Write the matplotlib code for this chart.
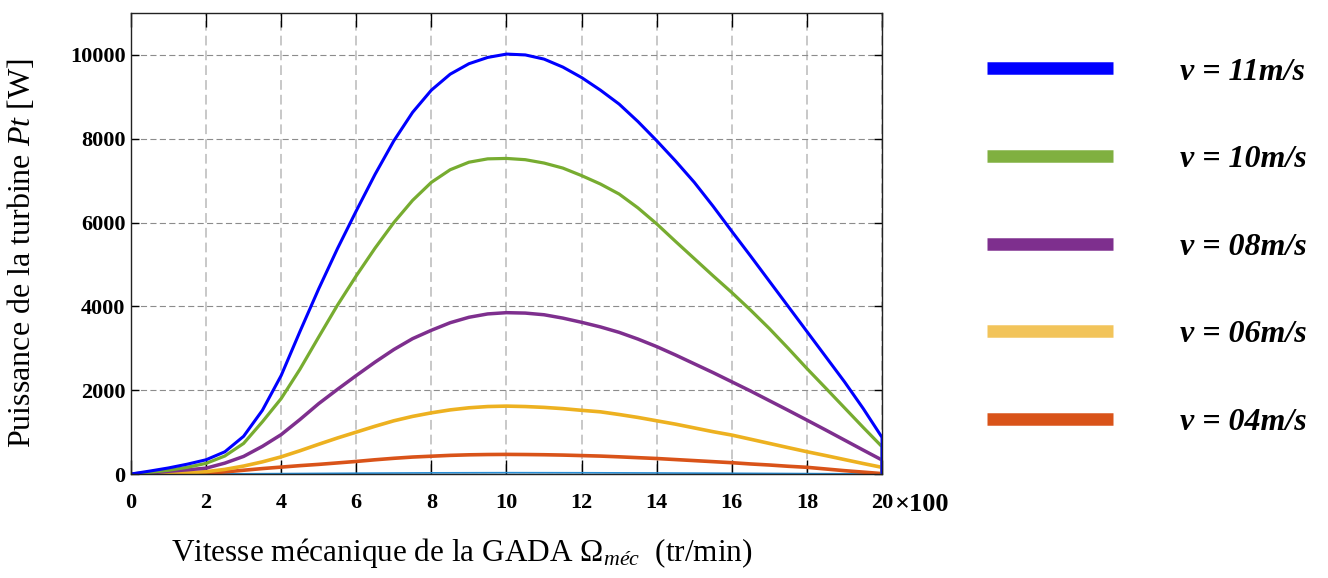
import matplotlib
matplotlib.use("Agg")
import matplotlib.pyplot as plt
import numpy as np
from matplotlib.lines import Line2D

plt.rcParams['font.family'] = ['Liberation Serif', 'DejaVu Serif']
plt.rcParams['mathtext.fontset'] = 'custom'
plt.rcParams['mathtext.rm'] = 'Liberation Serif'
plt.rcParams['mathtext.it'] = 'Liberation Serif:italic'
plt.rcParams['mathtext.bf'] = 'Liberation Serif:bold'

# speed axis (x100 tr/min), last point repeats 20 for the drop to 0
omega = list(np.arange(0, 20.5, 0.5)) + [20]

p_v11 = [0, 70, 145, 235, 340, 530, 900, 1520, 2350, 3400, 4420, 5380, 6280, 7150,
         7950, 8630, 9160, 9540, 9790, 9940, 10020, 10000, 9900, 9710, 9460, 9160,
         8826, 8410, 7952, 7470, 6960, 6390, 5790, 5200, 4600, 4000, 3400, 2800,
         2200, 1560, 873, 0]
p_v10 = [0, 40, 90, 160, 254, 430, 730, 1246, 1800, 2500, 3270, 4030, 4730, 5390,
         6000, 6530, 6960, 7260, 7440, 7520, 7530, 7500, 7420, 7300, 7120, 6920,
         6680, 6350, 5968, 5550, 5140, 4730, 4330, 3910, 3470, 3000, 2516, 2050,
         1580, 1110, 651, 0]
p_v08 = [0, 25, 65, 100, 140, 260, 420, 660, 940, 1300, 1680, 2020, 2350, 2670,
         2970, 3230, 3430, 3610, 3740, 3820, 3850, 3840, 3800, 3720, 3620, 3510,
         3380, 3220, 3040, 2840, 2630, 2420, 2200, 1980, 1750, 1520, 1286, 1050,
         810, 570, 333, 0]
p_v06 = [0, 5, 15, 30, 56, 110, 190, 290, 410, 555, 710, 860, 1000, 1140, 1270,
         1375, 1460, 1530, 1580, 1610, 1620, 1610, 1590, 1560, 1520, 1484, 1420,
         1350, 1270, 1190, 1100, 1010, 929, 830, 730, 630, 532, 440, 345, 250, 159, 0]
p_v04 = [0, 0, 0, 5, 15, 50, 90, 130, 165, 200, 230, 265, 300, 340, 375, 405, 425,
         445, 458, 465, 468, 465, 460, 452, 440, 428, 410, 390, 370, 345, 320, 295,
         270, 240, 215, 185, 160, 120, 80, 45, 10, 0]

omega_low = [0, 2, 4, 6, 8, 10, 12, 14, 16, 18, 20]
p_low = [0, 2, 10, 20, 28, 32, 30, 25, 18, 10, 2]

labels = ['v = 11m/s', 'v = 10m/s', 'v = 08m/s', 'v = 06m/s', 'v = 04m/s']
colors = ['#0000ff', '#77ac30', '#7e2f8e', '#edb120', '#d95319']
widths = [2.2, 2.3, 2.5, 2.6, 2.6]
legend_colors = ['#0000ff', '#80b040', '#7e2f8e', '#f2c45a', '#d95319']
xticks = list(range(0, 21, 2))
yticks = [0, 2000, 4000, 6000, 8000, 10000]

fig = plt.figure(figsize=(13.28, 5.78), dpi=100)
ax = fig.add_axes([0.0986, 0.1799, 0.5656, 0.7976])

ax.plot(omega_low, p_low, color='#2a8fd6', lw=1.2)
series = [p_v11, p_v10, p_v08, p_v06, p_v04]
for p, c, w in reversed(list(zip(series, colors, widths))):
    ax.plot(omega, p, color=c, lw=w)

ax.set_xlim(0, 20)
ax.set_ylim(0, 11000)
ax.set_xticks(xticks)
ax.set_yticks(yticks)
ax.set_axisbelow(True)
ax.xaxis.grid(True, color='#c8c8c8', lw=1.4, ls=(0, (5, 2.6)))
ax.yaxis.grid(True, color='#8c8c8c', lw=0.8, ls=(0, (5.5, 3)))

ax.tick_params(axis='x', direction='in', top=True, length=10, width=1,
               pad=14, labelsize=16)
ax.tick_params(axis='y', direction='in', right=True, length=6, width=1,
               pad=4, labelsize=16)
for lab in ax.get_xticklabels() + ax.get_yticklabels():
    lab.set_fontweight('bold')
for s in ax.spines.values():
    s.set_linewidth(1.0)
    s.set_color('#222222')

ax.text(1.016, -0.067, '×100', transform=ax.transAxes, fontsize=19,
        fontweight='bold', va='center', ha='left')

ax.set_ylabel('Puissance de la turbine $Pt$ [W]', fontsize=23)
ax.yaxis.set_label_coords(-0.125, 0.48)
ax.set_xlabel('Vitesse mécanique de la GADA $\\Omega_{méc}$  (tr/min)', fontsize=22.5)
ax.xaxis.set_label_coords(0.44, -0.135)

handles = [Line2D([], [], color=c, lw=9, solid_capstyle='butt') for c in legend_colors]
fig.legend(handles, labels, loc='center left', bbox_to_anchor=(987 / 1328, 1 - 247 / 578),
           frameon=False, borderpad=0, borderaxespad=0, handlelength=3.95,
           handletextpad=2.1, labelspacing=1.82,
           prop={'family': 'Liberation Serif', 'style': 'italic',
                 'weight': 'bold', 'size': 23})

fig.savefig('out.png', dpi=100)
